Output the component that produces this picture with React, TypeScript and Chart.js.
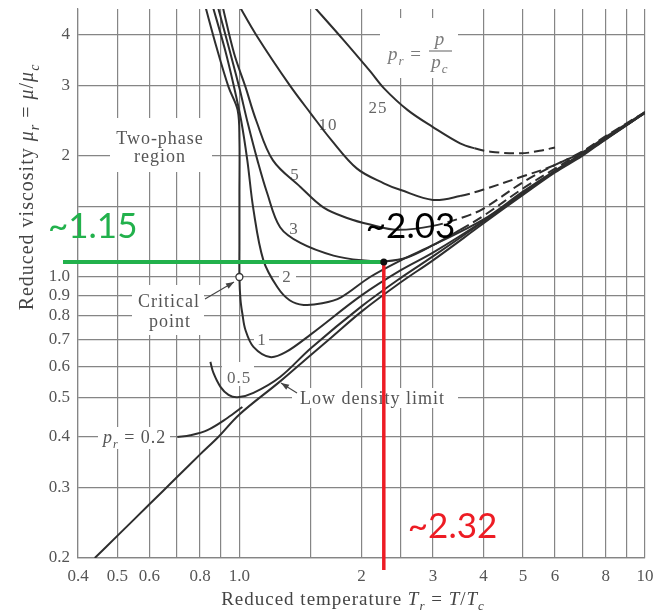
import React, { useEffect, useRef } from "react";
import { Chart, registerables } from "chart.js";
Chart.register(...registerables);

// ---------- axes ----------
const xGridValues = [0.4, 0.5, 0.6, 0.7, 0.8, 0.9, 1.0, 1.5, 2, 2.5, 3, 4, 5, 6, 7, 8, 9, 10];
const xTickLabels = ["0.4", "0.5", "0.6", "", "0.8", "", "1.0", "", "2", "", "3", "4", "5", "6", "", "8", "", "10"];
const yGridValues = [0.2, 0.3, 0.4, 0.5, 0.6, 0.7, 0.8, 0.9, 1.0, 1.5, 2, 3, 4];
const yTickLabels = ["0.2", "0.3", "0.4", "0.5", "0.6", "0.7", "0.8", "0.9", "1.0", "", "2", "3", "4"];
const xMin = 0.4;
const xMax = 10;
const yMin = 0.2;
const yMax = 4.64;

// ---------- curves (Tr, mu_r) ----------
const lowDensityT = [0.44, 0.5, 0.6, 0.7, 0.8, 0.887, 1.0, 1.26, 1.5, 1.68, 2.0, 2.5, 3.0, 4.0, 5.0, 6.0, 7.0, 8.0, 10.0];
const lowDensityMu = [0.2, 0.227, 0.272, 0.317, 0.362, 0.4, 0.455, 0.55, 0.64, 0.705, 0.82, 0.97, 1.1, 1.36, 1.6, 1.82, 2.0, 2.2, 2.56];

const pr02T = [0.703, 0.757, 0.834, 0.934, 1.017];
const pr02Mu = [0.4, 0.404, 0.416, 0.446, 0.475];

const pr05T = [0.848, 0.863, 0.898, 0.94, 0.99, 1.083, 1.26, 1.5, 2.0, 2.5, 3.0, 4.0, 5.0, 6.0, 8.0, 10.0];
const pr05Mu = [0.615, 0.577, 0.533, 0.509, 0.502, 0.515, 0.564, 0.665, 0.845, 0.995, 1.125, 1.375, 1.61, 1.83, 2.2, 2.56];

const pr1T = [0.82, 0.88, 0.94, 0.99, 1.0, 1.0, 1.0, 1.0, 1.006, 1.017, 1.035, 1.083, 1.19, 1.3, 1.5, 2.0, 2.5, 3.0, 4.0, 5.0, 6.0, 8.0, 10.0];
const pr1Mu = [4.8, 3.7, 2.97, 2.6, 2.2, 1.6, 1.2, 1.0, 0.88, 0.81, 0.738, 0.67, 0.632, 0.65, 0.72, 0.9, 1.04, 1.15, 1.38, 1.62, 1.83, 2.21, 2.56];

const pr2T = [0.855, 0.92, 0.97, 1.01, 1.046, 1.083, 1.146, 1.24, 1.33, 1.44, 1.6, 1.78, 2.1, 2.5, 3.0, 4.0, 5.0, 6.0, 8.0, 10.0];
const pr2Mu = [4.8, 3.7, 2.97, 2.45, 1.95, 1.47, 1.1, 0.944, 0.875, 0.852, 0.86, 0.89, 1.0, 1.1, 1.2, 1.39, 1.63, 1.84, 2.21, 2.56];

const pr3T = [0.88, 0.95, 1.0, 1.05, 1.108, 1.17, 1.26, 1.414, 1.706, 2.0, 2.3, 2.6, 3.0, 3.5, 4.0, 5.0, 6.0, 8.0, 10.0];
const pr3Mu = [4.8, 3.6, 2.95, 2.4, 1.95, 1.62, 1.33, 1.215, 1.13, 1.1, 1.095, 1.12, 1.2, 1.31, 1.42, 1.66, 1.86, 2.22, 2.57];

const pr5T = [0.905, 0.97, 1.035, 1.1, 1.21, 1.414, 1.61, 1.85, 2.1, 2.45, 3.0, 3.58, 4.0, 5.0, 6.0, 7.0, 8.0, 10.0];
const pr5Mu = [4.8, 3.6, 2.97, 2.45, 1.95, 1.675, 1.49, 1.4, 1.35, 1.31, 1.34, 1.41, 1.48, 1.72, 1.9, 2.04, 2.23, 2.57];

const pr10T = [0.99, 1.1, 1.33, 1.5, 1.68, 1.95, 2.27, 2.5, 3.0, 3.5, 4.0, 5.0, 5.85, 7.0, 8.0, 10.0];
const pr10Mu = [4.8, 4.0, 3.0, 2.55, 2.2, 1.86, 1.71, 1.645, 1.555, 1.59, 1.65, 1.78, 1.88, 2.05, 2.24, 2.57];

const pr25T = [1.5, 1.8, 2.1, 2.27, 2.6, 3.0, 3.5, 3.8, 4.16, 4.94, 5.5, 6.0];
const pr25Mu = [4.8, 3.9, 3.25, 2.95, 2.6, 2.36, 2.15, 2.09, 2.05, 2.03, 2.06, 2.1];

const curveNames = ["Low density limit", "pr=0.2", "pr=0.5", "pr=1", "pr=2", "pr=3", "pr=5", "pr=10", "pr=25"];
const curveTs = [lowDensityT, pr02T, pr05T, pr1T, pr2T, pr3T, pr5T, pr10T, pr25T];
const curveMus = [lowDensityMu, pr02Mu, pr05Mu, pr1Mu, pr2Mu, pr3Mu, pr5Mu, pr10Mu, pr25Mu];
const dashFromT = [Infinity, Infinity, Infinity, Infinity, Infinity, 3.5, 3.0, 3.5, 3.8];

// ---------- reading annotation ----------
const markT = 2.27;
const markMu = 1.09;
const markLabelMu = "~1.15";
const markLabelP = "~2.03";
const markLabelT = "~2.32";

const SERIF = '"Liberation Serif", "Times New Roman", serif';
const SANS = 'Lato, "Noto Sans", sans-serif';

type Part = { t: string; it?: boolean; sub?: boolean };

function drawRich(ctx: CanvasRenderingContext2D, parts: Part[], x: number, y: number, size: number, align: string) {
  const fontFor = (p: Part) => `${p.it ? "italic " : ""}${p.sub ? Math.round(size * 0.68) : size}px ${SERIF}`;
  let total = 0;
  const widths = parts.map((p) => {
    ctx.font = fontFor(p);
    const w = ctx.measureText(p.t).width;
    total += w;
    return w;
  });
  let cx = align === "center" ? x - total / 2 : align === "right" ? x - total : x;
  ctx.textAlign = "left";
  parts.forEach((p, i) => {
    ctx.font = fontFor(p);
    ctx.fillText(p.t, cx, y + (p.sub ? size * 0.28 : 0));
    cx += widths[i];
  });
  return total;
}

function arrow(ctx: CanvasRenderingContext2D, x1: number, y1: number, x2: number, y2: number) {
  ctx.beginPath();
  ctx.moveTo(x1, y1);
  ctx.lineTo(x2, y2);
  ctx.stroke();
  const a = Math.atan2(y2 - y1, x2 - x1);
  const L = 8, W = 3;
  ctx.beginPath();
  ctx.moveTo(x2, y2);
  ctx.lineTo(x2 - L * Math.cos(a) + W * Math.sin(a), y2 - L * Math.sin(a) - W * Math.cos(a));
  ctx.lineTo(x2 - L * Math.cos(a) - W * Math.sin(a), y2 - L * Math.sin(a) + W * Math.cos(a));
  ctx.closePath();
  ctx.fill();
}

const decorPlugin = {
  id: "decor",
  beforeDatasetsDraw(chart: any) {
    const ctx: CanvasRenderingContext2D = chart.ctx;
    ctx.save();
    (ctx as any).letterSpacing = "1px";
    ctx.fillStyle = "#ffffff";
    const boxes = [
      [110, 118, 102, 54], // two-phase region
      [132, 285, 72, 50], // critical point
      [380, 18, 78, 60], // pr = p/pc
      [366, 98, 24, 18], // 25
      [317, 114, 22, 18], // 10
      [288, 165, 14, 18], // 5
      [287, 219, 14, 18], // 3
      [279, 268, 17, 18], // 2
      [254, 331, 15, 18], // 1
      [222, 362, 32, 24], // 0.5
      [98, 427, 72, 22], // pr = 0.2
      [292, 388, 166, 20], // low density limit
    ];
    boxes.forEach((b) => ctx.fillRect(b[0], b[1], b[2], b[3]));

    ctx.fillStyle = "#555";
    ctx.textBaseline = "alphabetic";
    drawRich(ctx, [{ t: "Two-phase" }], 160, 144, 18, "center");
    drawRich(ctx, [{ t: "region" }], 160, 162, 18, "center");
    drawRich(ctx, [{ t: "Critical" }], 169, 307, 18, "center");
    drawRich(ctx, [{ t: "point" }], 170, 327, 18, "center");
    drawRich(ctx, [{ t: "Low density limit" }], 300, 404, 18, "left");
    drawRich(ctx, [{ t: "p", it: true }, { t: "r", it: true, sub: true }, { t: " = 0.2" }], 103, 443, 18, "left");

    ctx.fillStyle = "#666";
    drawRich(ctx, [{ t: "25" }], 378, 113, 17, "center");
    drawRich(ctx, [{ t: "10" }], 328, 130, 17, "center");
    drawRich(ctx, [{ t: "5" }], 295, 180, 17, "center");
    drawRich(ctx, [{ t: "3" }], 294, 234, 17, "center");
    drawRich(ctx, [{ t: "2" }], 287, 282, 17, "center");
    drawRich(ctx, [{ t: "1" }], 262, 345, 17, "center");
    drawRich(ctx, [{ t: "0.5" }], 239, 383, 17, "center");

    // pr = p / pc
    ctx.fillStyle = "#7a7a7a";
    drawRich(ctx, [{ t: "p", it: true }, { t: "r", it: true, sub: true }, { t: " =" }], 388, 60, 19, "left");
    drawRich(ctx, [{ t: "p", it: true }], 440, 45, 19, "center");
    drawRich(ctx, [{ t: "p", it: true }, { t: "c", it: true, sub: true }], 440, 68, 19, "center");
    ctx.strokeStyle = "#7a7a7a";
    ctx.lineWidth = 1.2;
    ctx.beginPath();
    ctx.moveTo(429, 51);
    ctx.lineTo(452, 51);
    ctx.stroke();
    ctx.restore();
  },
  afterDatasetsDraw(chart: any) {
    const ctx: CanvasRenderingContext2D = chart.ctx;
    const xs = chart.scales.x;
    const ys = chart.scales.y;
    ctx.save();
    // critical point
    ctx.fillStyle = "#fff";
    ctx.strokeStyle = "#333";
    ctx.lineWidth = 1.3;
    ctx.beginPath();
    ctx.arc(xs.getPixelForValue(1.0), ys.getPixelForValue(1.0), 3.5, 0, Math.PI * 2);
    ctx.fill();
    ctx.stroke();
    // arrows
    ctx.strokeStyle = "#444";
    ctx.fillStyle = "#444";
    ctx.lineWidth = 1.1;
    arrow(ctx, 205, 299, 234, 282);
    arrow(ctx, 297, 393, 281, 383);
    ctx.restore();
  },
  afterDraw(chart: any) {
    const ctx: CanvasRenderingContext2D = chart.ctx;
    const ca = chart.chartArea;
    const xs = chart.scales.x;
    const ys = chart.scales.y;
    ctx.save();
    // axis titles
    ctx.fillStyle = "#444";
    (ctx as any).letterSpacing = "1px";
    drawRich(
      ctx,
      [{ t: "Reduced temperature " }, { t: "T", it: true }, { t: "r", it: true, sub: true }, { t: " = " }, { t: "T", it: true }, { t: "/" }, { t: "T", it: true }, { t: "c", it: true, sub: true }],
      353,
      605,
      19,
      "center"
    );
    ctx.save();
    ctx.translate(33, 187);
    ctx.rotate(-Math.PI / 2);
    drawRich(
      ctx,
      [{ t: "Reduced viscosity " }, { t: "μ", it: true }, { t: "r", it: true, sub: true }, { t: " = " }, { t: "μ", it: true }, { t: "/" }, { t: "μ", it: true }, { t: "c", it: true, sub: true }],
      0,
      0,
      20,
      "center"
    );
    ctx.restore();
    (ctx as any).letterSpacing = "0px";

    // reading annotation
    const mx = xs.getPixelForValue(markT);
    const my = ys.getPixelForValue(markMu);
    ctx.lineCap = "butt";
    ctx.strokeStyle = "#22b14c";
    ctx.lineWidth = 4;
    ctx.beginPath();
    ctx.moveTo(ca.left - 15, my);
    ctx.lineTo(mx, my);
    ctx.stroke();
    ctx.strokeStyle = "#ed1c24";
    ctx.lineWidth = 3.5;
    ctx.beginPath();
    ctx.moveTo(mx, my);
    ctx.lineTo(mx, ca.bottom + 12);
    ctx.stroke();
    ctx.fillStyle = "#111";
    ctx.beginPath();
    ctx.arc(mx, my, 3.5, 0, Math.PI * 2);
    ctx.fill();

    ctx.textAlign = "left";
    ctx.textBaseline = "alphabetic";
    ctx.font = `35px ${SANS}`;
    ctx.fillStyle = "#22b14c";
    ctx.fillText(markLabelMu, ca.left - 30, my - 24);
    ctx.fillStyle = "#000";
    ctx.fillText(markLabelP, mx - 18, my - 24);
    ctx.fillStyle = "#ed1c24";
    ctx.fillText(markLabelT, mx + 24, ca.bottom - 20);
    ctx.restore();
  },
};

export default function App() {
  const ref = useRef<HTMLCanvasElement>(null);
  useEffect(() => {
    const datasets = curveNames.map((name, k) => ({
      label: name,
      data: curveTs[k].map((t, i) => ({ x: t, y: curveMus[k][i] })),
      borderColor: "#2e2e2e",
      borderWidth: 2,
      pointRadius: 0,
      fill: false,
      tension: 0.35,
      segment: {
        borderDash: (c: any) => (c.p0.parsed.x >= dashFromT[k] - 1e-9 ? [10, 5] : undefined),
      },
    }));
    const gridStyle = { color: "#858585", lineWidth: 1.2, drawTicks: false };
    const tickFont = { family: SERIF, size: 17 };
    const chart = new Chart(ref.current as HTMLCanvasElement, {
      type: "line",
      data: { datasets } as any,
      plugins: [decorPlugin as any],
      options: {
        animation: false,
        responsive: false,
        maintainAspectRatio: false,
        layout: { padding: { top: 9, right: 9, left: 0, bottom: 0 } },
        plugins: { legend: { display: false }, tooltip: { enabled: false }, title: { display: false } },
        scales: {
          x: {
            type: "logarithmic",
            min: xMin,
            max: xMax,
            afterBuildTicks: (s: any) => {
              s.ticks = xGridValues.map((v) => ({ value: v }));
            },
            afterFit: (s: any) => {
              s.height = 55;
              s.paddingLeft = 0;
              s.paddingRight = 0;
            },
            grid: gridStyle,
            border: { display: true, color: "#858585", width: 1.2 },
            ticks: {
              autoSkip: false,
              maxRotation: 0,
              padding: 8,
              color: "#555",
              font: tickFont,
              callback: (v: any) => xTickLabels[xGridValues.indexOf(Number(v))] ?? "",
            },
          },
          y: {
            type: "logarithmic",
            min: yMin,
            max: yMax,
            afterBuildTicks: (s: any) => {
              s.ticks = yGridValues.map((v) => ({ value: v }));
            },
            afterFit: (s: any) => {
              s.width = 78;
              s.paddingTop = 0;
              s.paddingBottom = 0;
            },
            grid: gridStyle,
            border: { display: true, color: "#858585", width: 1.2 },
            ticks: {
              autoSkip: false,
              padding: 8,
              color: "#555",
              font: tickFont,
              callback: (v: any) => yTickLabels[yGridValues.indexOf(Number(v))] ?? "",
            },
          },
        },
      } as any,
    });
    return () => chart.destroy();
  }, []);
  return (
    <div style={{ position: "absolute", left: 0, top: 0, width: 654, height: 613, background: "#fff" }}>
      <canvas ref={ref} width={654} height={613} style={{ display: "block", width: 654, height: 613 }} />
    </div>
  );
}
